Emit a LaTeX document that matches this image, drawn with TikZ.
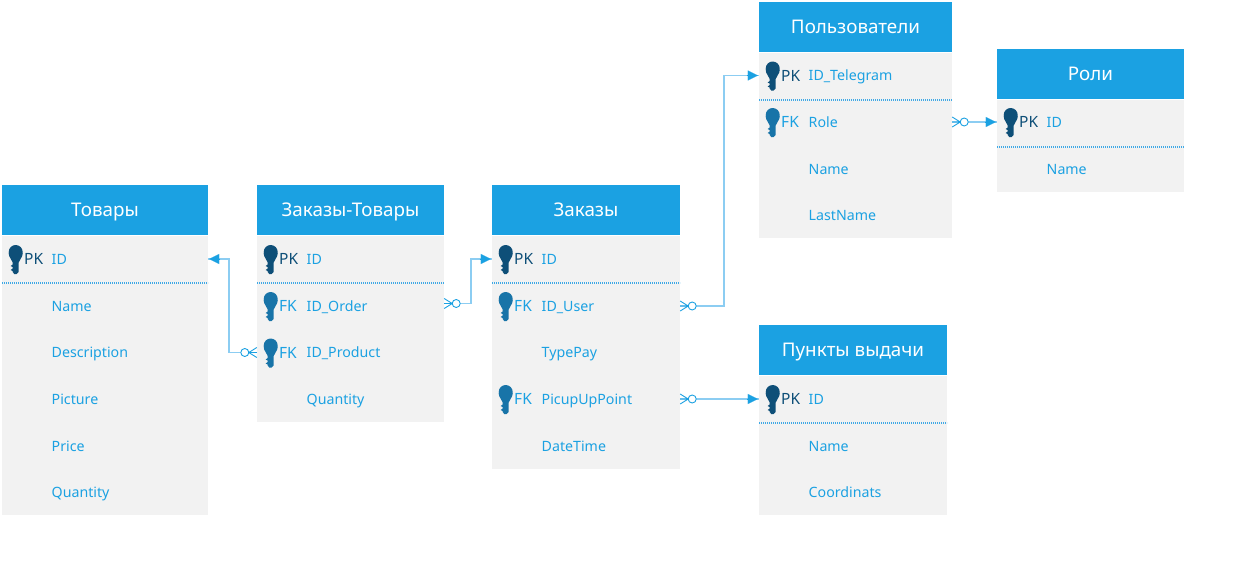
\documentclass[tikz,border=0pt]{standalone}
\usepackage{fontspec}
\setmainfont{Noto Sans}
\usetikzlibrary{arrows.meta,calc}
\definecolor{hdr}{HTML}{1BA1E2}
\definecolor{bodyc}{HTML}{F2F2F2}
\definecolor{pkc}{HTML}{0E4F78}
\definecolor{fkc}{HTML}{1874A8}
\definecolor{linec}{HTML}{8CCDF2}
\definecolor{sepc}{HTML}{3FA9E6}
\tikzset{
  hdrbox/.style={fill=hdr,draw=none,inner sep=0pt,text=white,text height=14pt,text depth=2pt,font=\fontsize{18.8}{22}\selectfont},
  bodybox/.style={fill=bodyc,draw=none,inner sep=0pt},
  rowbox/.style={draw=none,inner sep=0pt,minimum height=20pt},
  attr/.style={anchor=base west,inner sep=0pt,text=hdr,font=\fontsize{14.2}{16}\selectfont},
  pktext/.style={anchor=base west,inner sep=0pt,text=pkc,font=\fontsize{15.5}{18}\selectfont},
  fktext/.style={anchor=base west,inner sep=0pt,text=hdr,font=\fontsize{15.5}{18}\selectfont},
  seprule/.style={draw=sepc,line width=1.1pt,dash pattern=on 1.2pt off 0.8pt},
  conn/.style={draw=linec,line width=1.7pt},
  tipline/.style={draw=hdr,fill=hdr,line width=0.1pt,-{Triangle[length=10pt,width=10pt]},shorten >=1pt},
  keyshape/.pic={
    \fill[pic actions] (0,-7) circle (7);
    \fill[pic actions] (-7,-6) -- (7,-6) -- (6.5,-3) -- (3,3.5) -- (3,13) -- (1,15) -- (-1.5,15) -- (-3,13)
      -- (-3,12) -- (-5,11) -- (-3,9.5) -- (-3,8) -- (-5,7) -- (-3,5.5) -- (-3,3.5) -- (-6.5,-3) -- cycle;
  },
  crowfoot/.pic={
    \draw[draw=hdr,line width=0.9pt,fill=white] (-12,0) circle (4);
    \draw[draw=hdr,line width=0.9pt] (-8,0) -- (0,-5) (-8,0) -- (0,0) (-8,0) -- (0,5);
  }
}
% \tablebox{id}{x1}{x2}{top}{bottom}{title}
\newcommand{\tablebox}[6]{
  \node[hdrbox,minimum width={(#3-#2)*1pt},minimum height=50pt] (#1head) at ({(#2+#3)/2},{#4+25}) {#6};
  \node[bodybox,minimum width={(#3-#2)*1pt},minimum height={(#5-#4-51)*1pt}] (#1body) at ({(#2+#3)/2},{(#4+51+#5)/2}) {};
  \coordinate (#1sl) at (#2,{#4+98});
  \coordinate (#1sr) at (#3,{#4+98});
  \draw[seprule] (#1sl) -- (#1sr);
}
% \rowitem{id}{x1}{x2}{y}{keytype P/F/N}{label}
\newcommand{\rowitem}[6]{
  \node[rowbox,minimum width={(#3-#2)*1pt}] (#1) at ({(#2+#3)/2},#4) {};
  \node[attr] (#1label) at ({#2+49.5},{#4+5}) {#6};
  \ifx P#5
    \pic[fill=pkc] at ({#2+13.7},#4) {keyshape};
    \node[pktext] (#1kt) at ({#2+22},{#4+5.5}) {PK};
  \fi
  \ifx F#5
    \pic[fill=fkc] at ({#2+13.7},#4) {keyshape};
    \node[fktext] (#1kt) at ({#2+22},{#4+5.5}) {FK};
  \fi
}
\begin{document}
\begin{tikzpicture}[x=1pt,y=-1pt]
\useasboundingbox[fill=white] (0,0) rectangle (1240,584);

\tablebox{tov}{2}{208}{185}{515}{Товары}
\rowitem{tova}{2}{208}{259}{P}{ID}
\rowitem{tovb}{2}{208}{306}{N}{Name}
\rowitem{tovc}{2}{208}{352.5}{N}{Description}
\rowitem{tovd}{2}{208}{399}{N}{Picture}
\rowitem{tove}{2}{208}{446}{N}{Price}
\rowitem{tovf}{2}{208}{492.5}{N}{Quantity}

\tablebox{zt}{257}{444}{185}{422}{Заказы-Товары}
\rowitem{zta}{257}{444}{259}{P}{ID}
\rowitem{ztb}{257}{444}{306}{F}{ID\_Order}
\rowitem{ztc}{257}{444}{352.5}{F}{ID\_Product}
\rowitem{ztd}{257}{444}{399}{N}{Quantity}

\tablebox{zak}{492}{680}{185}{469}{Заказы}
\rowitem{zaka}{492}{680}{259}{P}{ID}
\rowitem{zakb}{492}{680}{306}{F}{ID\_User}
\rowitem{zakc}{492}{680}{352.5}{N}{TypePay}
\rowitem{zakd}{492}{680}{399}{F}{PicupUpPoint}
\rowitem{zake}{492}{680}{446}{N}{DateTime}

\tablebox{usr}{759}{952}{2}{238}{Пользователи}
\rowitem{usra}{759}{952}{75.5}{P}{ID\_Telegram}
\rowitem{usrb}{759}{952}{122}{F}{Role}
\rowitem{usrc}{759}{952}{169}{N}{Name}
\rowitem{usrd}{759}{952}{215.5}{N}{LastName}

\tablebox{rol}{997}{1184}{49}{192}{Роли}
\rowitem{rola}{997}{1184}{122}{P}{ID}
\rowitem{rolb}{997}{1184}{169}{N}{Name}

\tablebox{pun}{759}{947}{325}{515}{Пункты выдачи}
\rowitem{puna}{759}{947}{399}{P}{ID}
\rowitem{punb}{759}{947}{446}{N}{Name}
\rowitem{punc}{759}{947}{492.5}{N}{Coordinats}

% connectors
\draw[conn] (ztc.west) -| (229,259) -- (tova.east);
\draw[tipline] ([xshift=12pt]tova.east) -- (tova.east);
\pic at (ztc.west) {crowfoot};

\draw[conn] ([yshift=2.5pt]ztb.east) -| (471,259) -- (zaka.west);
\draw[tipline] ([xshift=-12pt]zaka.west) -- (zaka.west);
\pic[xscale=-1] at ([yshift=2.5pt]ztb.east) {crowfoot};

\draw[conn] (zakb.east) -| (724,75.5) -- (usra.west);
\draw[tipline] ([xshift=-12pt]usra.west) -- (usra.west);
\pic[xscale=-1] at (zakb.east) {crowfoot};

\draw[conn] (zakd.east) -- (puna.west);
\draw[tipline] ([xshift=-12pt]puna.west) -- (puna.west);
\pic[xscale=-1] at (zakd.east) {crowfoot};

\draw[conn] (usrb.east) -- (rola.west);
\draw[tipline] ([xshift=-12pt]rola.west) -- (rola.west);
\pic[xscale=-1] at (usrb.east) {crowfoot};
\end{tikzpicture}
\end{document}
